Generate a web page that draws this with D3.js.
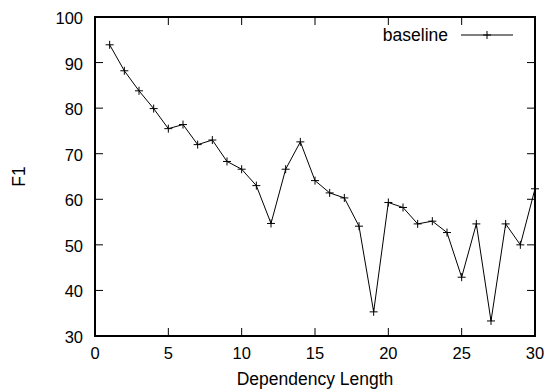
<!DOCTYPE html>
<html><head><meta charset="utf-8">
<script src="https://cdn.jsdelivr.net/npm/d3@7"></script>
<style>body{margin:0;background:#fff}svg{display:block}text{font-family:"Liberation Sans",Arial,sans-serif;fill:#000}</style>
</head><body>
<svg id="c" width="548" height="389"></svg>
<script>
const lengths = [1,2,3,4,5,6,7,8,9,10,11,12,13,14,15,16,17,18,19,20,21,22,23,24,25,26,27,28,29,30];
const baseline = [93.9,88.2,83.8,79.9,75.5,76.4,72.0,73.0,68.3,66.6,63.0,54.7,66.6,72.6,64.1,61.4,60.3,54.1,35.3,59.3,58.2,54.6,55.2,52.7,42.9,54.6,33.3,54.6,50.0,62.3];
const xTicks = [0,5,10,15,20,25,30];
const yTicks = [30,40,50,60,70,80,90,100];
const seriesName = "baseline";
const xTitle = "Dependency Length";
const yTitle = "F1";

const svg = d3.select("#c");
const L = 95, R = 535, T = 17, B = 336;
const x = d3.scaleLinear().domain([0,30]).range([L,R]);
const y = d3.scaleLinear().domain([30,100]).range([B,T]);
const tk = 8, fs = 16.5, tfs = 17.5;

const g = svg.append("g");
xTicks.forEach(v=>{
  g.append("line").attr("x1",x(v)).attr("x2",x(v)).attr("y1",B).attr("y2",B-tk).attr("stroke","#000");
  g.append("line").attr("x1",x(v)).attr("x2",x(v)).attr("y1",T).attr("y2",T+tk).attr("stroke","#000");
  g.append("text").attr("x",x(v)).attr("y",B+23).attr("text-anchor","middle").attr("font-size",fs).text(v);
});
yTicks.forEach(v=>{
  g.append("line").attr("x1",L).attr("x2",L+tk).attr("y1",y(v)).attr("y2",y(v)).attr("stroke","#000");
  g.append("line").attr("x1",R).attr("x2",R-tk).attr("y1",y(v)).attr("y2",y(v)).attr("stroke","#000");
  g.append("text").attr("x",L-12).attr("y",y(v)+7).attr("text-anchor","end").attr("font-size",fs).text(v);
});
g.append("rect").attr("x",L).attr("y",T).attr("width",R-L).attr("height",B-T)
 .attr("fill","none").attr("stroke","#000").attr("stroke-width",2);

svg.append("text").attr("x",(L+R)/2).attr("y",384.5).attr("text-anchor","middle").attr("font-size",tfs).text(xTitle);
svg.append("text").attr("transform",`translate(25,${(T+B)/2}) rotate(-90)`).attr("text-anchor","middle").attr("font-size",tfs).text(yTitle);

const data = lengths.map((d,i)=>({x:d,y:baseline[i]}));
const line = d3.line().x(d=>x(d.x)).y(d=>y(d.y));
svg.append("path").datum(data).attr("d",line).attr("fill","none").attr("stroke","#000").attr("stroke-width",1);
const ms = 4;
function plus(cx,cy){
  svg.append("path").attr("d",`M${cx-ms},${cy}H${cx+ms}M${cx},${cy-ms}V${cy+ms}`).attr("stroke","#000").attr("stroke-width",1).attr("fill","none");
}
data.forEach(d=>plus(x(d.x),y(d.y)));

svg.append("text").attr("x",448).attr("y",41).attr("text-anchor","end").attr("font-size",tfs).text(seriesName);
svg.append("line").attr("x1",461).attr("x2",513).attr("y1",35).attr("y2",35).attr("stroke","#000");
plus(487,35);
</script>
</body></html>
